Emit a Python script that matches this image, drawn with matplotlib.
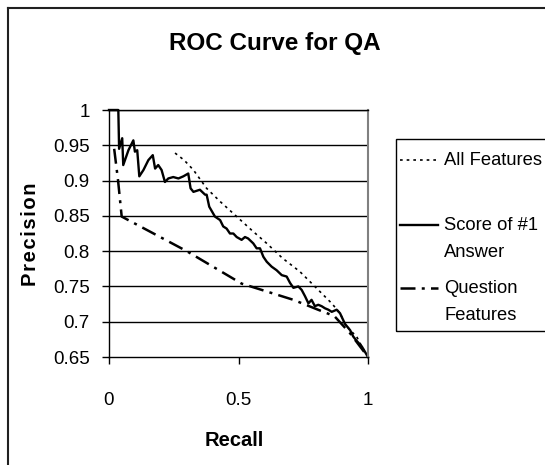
import matplotlib
matplotlib.use('Agg')
import matplotlib.pyplot as plt
from matplotlib.lines import Line2D
from matplotlib.patches import Rectangle

plt.rcParams['font.family'] = ['Liberation Sans', 'DejaVu Sans']

# Score of #1 Answer (solid)
score_recall = [0.0, 0.036, 0.039, 0.051, 0.055, 0.075, 0.094, 0.100, 0.109, 0.117,
                0.133, 0.152, 0.169, 0.178, 0.190, 0.203, 0.216, 0.229, 0.248, 0.268,
                0.287, 0.306, 0.315, 0.326, 0.351, 0.371, 0.377, 0.387, 0.409, 0.429,
                0.441, 0.454, 0.467, 0.480, 0.493, 0.512, 0.525, 0.537, 0.557, 0.570,
                0.583, 0.596, 0.609, 0.628, 0.647, 0.667, 0.686, 0.699, 0.712, 0.731,
                0.744, 0.757, 0.770, 0.782, 0.795, 0.808, 0.821, 0.834, 0.847, 0.860,
                0.879, 0.892, 0.911, 0.931, 0.943, 0.956, 0.976, 1.0]
score_prec = [1.0, 1.0, 0.945, 0.960, 0.922, 0.943, 0.957, 0.941, 0.943, 0.906,
              0.915, 0.929, 0.936, 0.917, 0.922, 0.915, 0.898, 0.903, 0.905, 0.903,
              0.906, 0.910, 0.889, 0.884, 0.887, 0.880, 0.880, 0.863, 0.849, 0.844,
              0.835, 0.832, 0.825, 0.825, 0.820, 0.816, 0.820, 0.818, 0.811, 0.804,
              0.804, 0.792, 0.785, 0.778, 0.773, 0.766, 0.764, 0.755, 0.748, 0.750,
              0.745, 0.736, 0.726, 0.731, 0.722, 0.724, 0.722, 0.719, 0.717, 0.714,
              0.717, 0.712, 0.697, 0.688, 0.679, 0.673, 0.665, 0.65]

# All Features (dotted)
all_recall = [0.255, 0.290, 0.326, 0.377, 0.430, 0.493, 0.550, 0.609, 0.670,
              0.737, 0.800, 0.860, 0.892, 0.911, 0.931, 0.956, 0.976, 1.0]
all_prec = [0.939, 0.929, 0.915, 0.889, 0.870, 0.849, 0.830, 0.811, 0.790,
            0.771, 0.748, 0.726, 0.712, 0.697, 0.688, 0.679, 0.665, 0.65]

# Question Features (dash-dot)
q_recall = [0.02, 0.035, 0.049, 0.300, 0.512, 0.712, 0.807, 0.870, 0.930, 1.0]
q_prec = [0.945, 0.900, 0.849, 0.800, 0.754, 0.731, 0.717, 0.708, 0.684, 0.65]

legend_labels = [['All Features'], ['Score of #1', 'Answer'], ['Question', 'Features']]
y_ticks = [0.65, 0.7, 0.75, 0.8, 0.85, 0.9, 0.95, 1.0]
y_ticklabels = ['0.65', '0.7', '0.75', '0.8', '0.85', '0.9', '0.95', '1']
x_ticks = [0, 0.5, 1]
x_ticklabels = ['0', '0.5', '1']

W, H = 545, 465
fig = plt.figure(figsize=(W / 100, H / 100), dpi=100)
ax = fig.add_axes([109 / W, 1 - 357 / H, 259 / W, 247 / H])

dotted = (0, (1.6, 2.4))
dashdot = (0, (6, 2.5, 1.2, 2.5))

ax.plot(all_recall, all_prec, color='black', lw=1.2, linestyle=dotted, clip_on=False)
ax.plot(score_recall, score_prec, color='black', lw=1.7, clip_on=False)
ax.plot(q_recall, q_prec, color='black', lw=1.8, linestyle=dashdot, clip_on=False)

ax.set_xlim(0, 1)
ax.set_ylim(0.65, 1.0)
ax.set_xticks(x_ticks)
ax.set_xticklabels(x_ticklabels)
ax.set_yticks(y_ticks)
ax.set_yticklabels(y_ticklabels)
ax.tick_params(axis='both', direction='out', length=5, width=1, labelsize=13.5)
ax.tick_params(axis='x', pad=20)
ax.tick_params(axis='y', pad=9)

for yv in y_ticks[1:]:
    ax.axhline(yv, color='black', lw=1)
for s in ['top', 'bottom', 'left']:
    ax.spines[s].set_color('black')
    ax.spines[s].set_linewidth(1)
ax.spines['right'].set_color('#808080')
ax.spines['right'].set_linewidth(1.5)

fig.text(275 / W, 1 - 43 / H, 'ROC Curve for QA', ha='center', va='center',
         fontsize=17.5, fontweight='bold')
fig.text(234 / W, 1 - 440 / H, 'Recall', ha='center', va='center',
         fontsize=14.5, fontweight='bold')
fig.text(31 / W, 1 - 234 / H, '\u200a'.join('Precision'), ha='center', va='center',
         rotation=90, fontsize=14.5, fontweight='bold')

# outer chart border (extends past the image on the right and bottom)
fig.add_artist(Line2D([8 / W, 8 / W], [0, 1 - 8 / H], color='#202020', lw=1.5))
fig.add_artist(Line2D([8 / W, 1], [1 - 8 / H, 1 - 8 / H], color='#202020', lw=1.5))

# legend box
fig.add_artist(Rectangle((396 / W, 1 - 331 / H), (W + 10 - 396) / W, (331 - 139) / H,
                         transform=fig.transFigure, fill=False, edgecolor='black', lw=1))
styles = [dict(lw=1.2, linestyle=dotted), dict(lw=1.7), dict(lw=1.8, linestyle=dashdot)]
rows = [160, 225, 288]
for lines, st, yy in zip(legend_labels, styles, rows):
    fig.add_artist(Line2D([400 / W, 438 / W], [1 - yy / H, 1 - yy / H], color='black', **st))
    for k, txt in enumerate(lines):
        fig.text(444 / W, 1 - (yy + 27 * k) / H, txt, ha='left', va='center',
                 fontsize=13.2)

fig.savefig('out.png', dpi=100)
